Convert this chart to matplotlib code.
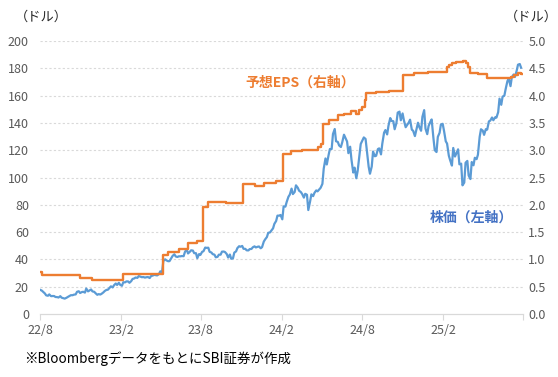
import matplotlib
matplotlib.use("Agg")
import matplotlib.pyplot as plt
import numpy as np
import pandas as pd

plt.rcParams['font.family'] = ['Noto Sans CJK JP', 'DejaVu Sans']

# 株価 (ドル, 左軸) - 火曜・金曜の値を目視で読み取り
price_2022 = [17.8, 17.2, 16.3, 15.1, 13.7, 13.4, 14.4, 13.1, 13.2, 13.2,
              12.5, 12.4, 12.1, 13.1, 12.0, 11.6, 11.3, 11.9, 12.5, 13.2,
              13.8, 13.8, 14.2, 14.4, 16.3, 16.7, 15.4, 16.1, 16.3, 15.7,
              18.7, 16.6, 17.2, 18.0, 16.6, 16.3, 15.3, 14.1, 14.6]
price_2023 = [14.3, 14.9, 15.9, 16.9, 17.7, 17.8, 19.2, 20.3, 19.5, 21.1,
              22.4, 21.3, 22.9, 21.4, 20.7, 23.3, 23.2, 23.9, 23.9, 22.9,
              24.1, 25.7, 26.1, 26.8, 26.5, 27.8, 27.4, 27.0, 27.1, 26.7,
              27.0, 27.1, 26.4, 27.8, 28.2, 28.7, 28.5, 28.3, 29.3, 31.3,
              30.7, 38.9, 40.1, 39.3, 38.7, 38.8, 41.0, 42.6, 43.8, 42.2,
              41.8, 42.3, 42.3, 42.5, 42.4, 45.5, 47.4, 44.4, 45.6, 46.7,
              46.5, 44.6, 44.6, 40.9, 43.9, 43.3, 45.6, 46.0, 48.7, 48.5,
              48.6, 45.6, 45.1, 43.9, 43.5, 41.6, 41.9, 43.5, 43.5, 45.7,
              45.8, 45.4, 43.9, 41.4, 43.6, 40.5, 40.8, 45.0, 45.9, 48.3,
              49.7, 49.3, 49.9, 47.8, 47.8, 46.7, 46.6, 47.6, 47.7, 48.9,
              49.6, 48.8, 49.3, 49.5]
price_2024 = [48.2, 49.0, 53.1, 54.7, 56.4, 59.5, 59.8, 61.1, 62.8, 66.1,
              68.2, 72.1, 72.1, 72.6, 69.4, 78.9, 78.7, 82.2, 86.0, 87.5,
              91.9, 87.9, 89.4, 94.3, 92.6, 90.4, 89.4, 88.0, 85.3, 88.1,
              87.4, 76.2, 82.4, 87.7, 86.4, 88.8, 90.6, 89.9, 91.4, 92.5,
              95.4, 106.5, 114.0, 109.6, 116.4, 120.9, 120.9, 131.9, 135.6, 126.6,
              126.1, 123.5, 122.4, 125.8, 131.4, 129.2, 126.4, 117.9, 122.6, 113.1,
              103.7, 107.3, 99.5, 104.8, 116.1, 124.6, 127.3, 129.4, 128.3, 119.4,
              108.0, 102.8, 108.1, 119.1, 115.6, 116.0, 120.9, 121.4, 117.0, 124.9,
              132.9, 134.8, 131.6, 138.0, 143.6, 141.5, 141.3, 135.4, 139.9, 147.6,
              148.3, 142.0, 147.0, 142.0, 136.9, 138.3, 140.3, 142.4, 135.1, 134.3,
              130.4, 134.7, 140.2, 137.0, 134.3]
price_2025 = [144.5, 149.4, 135.9, 131.8, 137.7, 140.8, 142.6, 129.0, 120.1, 118.7,
              129.8, 132.8, 138.9, 139.4, 134.4, 126.6, 124.9, 116.0, 112.7, 108.8,
              121.7, 115.4, 117.7, 120.7, 109.7, 110.2, 94.3, 96.3, 110.9, 112.2,
              101.5, 98.9, 111.4, 109.0, 114.5, 113.5, 116.7, 129.9, 135.4, 134.4,
              131.3, 135.5, 135.1, 141.2, 141.7, 144.0, 142.0, 144.1, 143.9, 147.9,
              157.8, 153.3, 159.3, 160.0, 164.9, 170.7, 172.4, 167.0, 173.5, 175.5,
              173.7, 178.3, 182.7, 183.2, 180.5]
price = price_2022 + price_2023 + price_2024 + price_2025

# 予想EPS (ドル, 右軸) - 変化点
eps_dates = ['2022-08-19', '2022-08-24', '2022-11-17', '2022-12-16', '2023-02-23',
             '2023-05-25', '2023-06-05', '2023-06-30', '2023-07-20', '2023-08-10',
             '2023-08-24', '2023-09-05', '2023-10-01', '2023-10-15', '2023-11-22',
             '2023-12-20', '2024-01-10', '2024-02-05', '2024-02-22', '2024-03-10',
             '2024-04-05', '2024-05-10', '2024-05-17', '2024-05-23', '2024-06-05',
             '2024-06-25', '2024-07-10', '2024-07-25', '2024-08-05', '2024-08-12',
             '2024-08-20', '2024-08-26', '2024-08-29', '2024-09-20', '2024-10-20',
             '2024-11-21', '2024-12-15', '2025-01-15', '2025-02-10', '2025-02-27',
             '2025-03-05', '2025-03-12', '2025-03-20', '2025-04-05', '2025-04-12',
             '2025-04-16', '2025-04-20', '2025-05-10', '2025-05-29', '2025-07-17',
             '2025-07-24', '2025-07-31', '2025-08-08', '2025-08-14', '2025-08-19']
eps_values = [0.775, 0.715, 0.665, 0.62, 0.73,
              1.08, 1.14, 1.19, 1.31, 1.34,
              1.965, 2.05, 2.06, 2.04, 2.38,
              2.35, 2.40, 2.44, 2.94, 2.985,
              3.0, 3.06, 3.11, 3.49, 3.55,
              3.64, 3.67, 3.72, 3.66, 3.74,
              3.80, 3.92, 4.04, 4.06, 4.08,
              4.38, 4.41, 4.44, 4.43, 4.53,
              4.56, 4.59, 4.62, 4.63, 4.60,
              4.52, 4.42, 4.40, 4.33, 4.32,
              4.35, 4.38, 4.41, 4.39, 4.39]

tick_dates = ['2022-08-19', '2023-02-19', '2023-08-19', '2024-02-19',
              '2024-08-19', '2025-02-19', '2025-08-19']
tick_labels = ['22/8', '23/2', '23/8', '24/2', '24/8', '25/2', '']

days = pd.date_range('2022-08-19', '2025-08-15', freq='D')
days = days[days.weekday.isin([1, 4])][:len(price)]

blue = '#5B9BD5'
orange = '#ED7D31'
gray = '#595959'

fig = plt.figure(figsize=(5.58, 3.77), dpi=100)
ax = fig.add_axes([0.0717, 0.167, 0.8653, 0.724])
ax2 = ax.twinx()

ax.plot(days, price, color=blue, lw=1.6, zorder=3)
ax2.plot(pd.to_datetime(eps_dates), eps_values, color=orange, lw=1.7,
         drawstyle='steps-post', zorder=3)

ax.set_ylim(0, 200)
ax.set_yticks(np.arange(0, 201, 20))
ax2.set_ylim(0, 5)
ax2.set_yticks(np.arange(0, 5.01, 0.5))
ax2.set_yticklabels([f'{v:.1f}' for v in np.arange(0, 5.01, 0.5)])
ax.set_xlim(pd.Timestamp('2022-08-19'), pd.Timestamp('2025-08-19'))
ax.set_xticks(pd.to_datetime(tick_dates))
ax.set_xticklabels(tick_labels)

for a in (ax, ax2):
    for s in ('left', 'right', 'top'):
        a.spines[s].set_visible(False)
    a.spines['bottom'].set_color('#D9D9D9')
    a.tick_params(axis='y', length=0, colors=gray, labelsize=9)
ax.tick_params(axis='y', pad=8)
ax2.tick_params(axis='y', pad=4)
ax.tick_params(axis='x', length=4, color='#D9D9D9', labelcolor=gray,
               labelsize=9, pad=3)

for v in range(20, 201, 20):
    ax.axhline(v, color='#D9D9D9', lw=0.8, ls=(0, (2, 2)), zorder=1)

fig.text(0.027, 0.955, '（ドル）', fontsize=9.5, color='#262626', va='center')
fig.text(0.905, 0.955, '（ドル）', fontsize=9.5, color='#262626', va='center')
fig.text(0.44, 0.78, '予想EPS（右軸）', fontsize=10, color=orange,
         fontweight='bold', va='center')
fig.text(0.77, 0.422, '株価（左軸）', fontsize=10, color='#4472C4',
         fontweight='bold', va='center')
fig.text(0.043, 0.05, '※BloombergデータをもとにSBI証券が作成', fontsize=9.7,
         color='black', va='center')

fig.savefig('out.png', dpi=100)
